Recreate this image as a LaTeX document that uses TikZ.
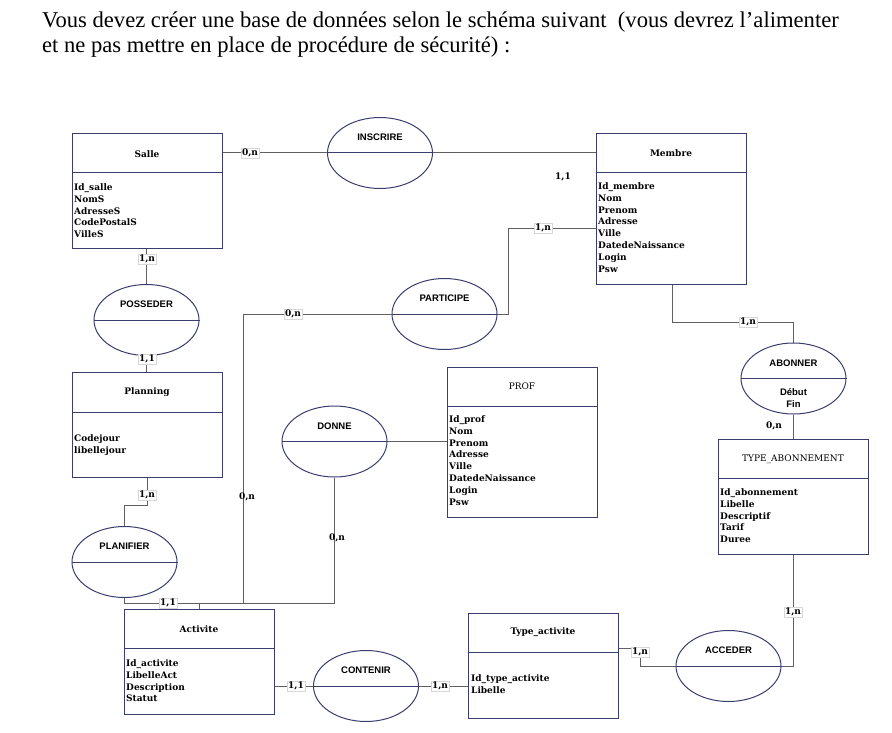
\documentclass[tikz,border=0pt]{standalone}
\usepackage{fontspec}
\setmainfont{Liberation Serif}
\newfontfamily\serb{DejaVu Serif}
\newfontfamily\sanb{Liberation Sans}
\usetikzlibrary{shapes.geometric}
\definecolor{boxc}{RGB}{58,62,110}
\definecolor{connc}{RGB}{95,95,100}
\definecolor{cardc}{RGB}{215,215,215}
\tikzset{
  entbox/.style={draw=boxc, line width=1pt, rectangle, inner sep=0pt},
  boxline/.style={draw=boxc, line width=1pt},
  relell/.style={draw=boxc, line width=1pt, ellipse, inner sep=0pt, minimum width=105pt, minimum height=71pt},
  conn/.style={draw=connc, line width=1pt},
  etitle/.style={font=\serb\fontsize{9}{11}\selectfont\bfseries, inner sep=0pt},
  etitler/.style={font=\serb\fontsize{9}{11}\selectfont, inner sep=0pt},
  attr/.style={font=\serb\fontsize{9}{11.8}\selectfont\bfseries, align=left, inner sep=0pt, anchor=north west},
  rname/.style={font=\sanb\fontsize{9.5}{12}\selectfont\bfseries, inner sep=0pt, align=center},
  card/.style={font=\serb\fontsize{9}{11}\selectfont\bfseries, fill=white, draw=cardc, line width=0.4pt, inner sep=1.2pt},
  cardplain/.style={font=\serb\fontsize{9}{11}\selectfont\bfseries, inner sep=0pt},
}
\begin{document}
\begin{tikzpicture}[x=1pt,y=-1pt]
\useasboundingbox (0,0) rectangle (892,733);
% title
\node[anchor=west, inner sep=0pt, font=\fontsize{22.6}{25}\selectfont, align=left] (title) at (42,35)
  {Vous devez créer une base de données selon le schéma suivant~ (vous devrez l’alimenter\\et ne pas mettre en place de procédure de sécurité) :};

% entities
\node[entbox, minimum width=150, minimum height=114] (salle) at (147,191) {};
\draw[boxline] (salle.west |- 0,173) -- (salle.east |- 0,173);
\node[etitle] (salleT) at (147,154) {Salle};
\node[attr] (salleA) at (74,183.5) {Id\_salle\\NomS\\AdresseS\\CodePostalS\\VilleS};

\node[entbox, minimum width=150, minimum height=150] (membre) at (671,209) {};
\draw[boxline] (membre.west |- 0,173) -- (membre.east |- 0,173);
\node[etitle] (membreT) at (671,153) {Membre};
\node[attr] (membreA) at (598,182.5) {Id\_membre\\Nom\\Prenom\\Adresse\\Ville\\DatedeNaissance\\Login\\Psw};

\node[entbox, minimum width=150, minimum height=105] (planning) at (147,424.5) {};
\draw[boxline] (planning.west |- 0,412) -- (planning.east |- 0,412);
\node[etitle] (planningT) at (147,392) {Planning};
\node[attr] (planningA) at (74,434.5) {Codejour\\libellejour};

\node[entbox, minimum width=150, minimum height=150] (prof) at (522,442) {};
\draw[boxline] (prof.west |- 0,406) -- (prof.east |- 0,406);
\node[etitler] (profT) at (522,386) {PROF};
\node[attr] (profA) at (449,415.5) {Id\_prof\\Nom\\Prenom\\Adresse\\Ville\\DatedeNaissance\\Login\\Psw};

\node[entbox, minimum width=150, minimum height=115] (typeabo) at (793,496.5) {};
\draw[boxline] (typeabo.west |- 0,478) -- (typeabo.east |- 0,478);
\node[etitler] (typeaboT) at (793,459) {TYPE\_ABONNEMENT};
\node[attr] (typeaboA) at (720,488.5) {Id\_abonnement\\Libelle\\Descriptif\\Tarif\\Duree};

\node[entbox, minimum width=150, minimum height=105] (activite) at (199,661.5) {};
\draw[boxline] (activite.west |- 0,648) -- (activite.east |- 0,648);
\node[etitle] (activiteT) at (199,629) {Activite};
\node[attr] (activiteA) at (126,659.5) {Id\_activite\\LibelleAct\\Description\\Statut};

\node[entbox, minimum width=150, minimum height=105] (typeact) at (543,665.5) {};
\draw[boxline] (typeact.west |- 0,652) -- (typeact.east |- 0,652);
\node[etitle] (typeactT) at (543,632) {Type\_activite};
\node[attr] (typeactA) at (471,674.5) {Id\_type\_activite\\Libelle};

% relationships
\node[relell] (inscrire) at (380,153) {};
\draw[boxline] (inscrire.west) -- (inscrire.east);
\node[rname] (inscrireT) at (380,137) {INSCRIRE};

\node[relell] (participe) at (444.5,314) {};
\draw[boxline] (participe.west) -- (participe.east);
\node[rname] (participeT) at (444.5,298) {PARTICIPE};

\node[relell] (posseder) at (146.5,320) {};
\draw[boxline] (posseder.west) -- (posseder.east);
\node[rname] (possederT) at (146.5,304) {POSSEDER};

\node[relell] (abonner) at (793.5,378.5) {};
\draw[boxline] (abonner.west) -- (abonner.east);
\node[rname] (abonnerT) at (793.5,363) {ABONNER};
\node[rname] (abonnerA) at (793.5,398) {Début\\Fin};

\node[relell] (donne) at (334.5,441.5) {};
\draw[boxline] (donne.west) -- (donne.east);
\node[rname] (donneT) at (334.5,426) {DONNE};

\node[relell] (planifier) at (124.5,562) {};
\draw[boxline] (planifier.west) -- (planifier.east);
\node[rname] (planifierT) at (124.5,546) {PLANIFIER};

\node[relell] (contenir) at (366,686) {};
\draw[boxline] (contenir.west) -- (contenir.east);
\node[rname] (contenirT) at (366,670) {CONTENIR};

\node[relell] (acceder) at (728.5,666) {};
\draw[boxline] (acceder.west) -- (acceder.east);
\node[rname] (accederT) at (728.5,650) {ACCEDER};

% connectors
\draw[conn] (salle.east |- inscrire.west) -- (inscrire.west);
\draw[conn] (inscrire.east) -- (membre.west |- inscrire.east);
\draw[conn] (membre.west |- 0,228) -- (508,228) -- (508,314) -- (participe.east);
\draw[conn] (participe.west) -- (243,314) -- (243,603);
\draw[conn] (donne.east) -- (prof.west |- donne.east);
\draw[conn] (donne.south) -- (334.5,603);
\draw[conn] (planifier.south) -- (124.5,603) -- (334.5,603);
\draw[conn] (activite.north) -- (activite.north |- 0,603);
\draw[conn] (posseder.north |- salle.south) -- (posseder.north);
\draw[conn] (posseder.south) -- (posseder.south |- planning.north);
\draw[conn] (planning.south) -- (147,505) -- (124.5,505) -- (planifier.north);
\draw[conn] (activite.east |- contenir.west) -- (contenir.west);
\draw[conn] (contenir.east) -- (typeact.west |- contenir.east);
\draw[conn] (typeact.east |- 0,648) -- (640,648) -- (640,666) -- (acceder.west);
\draw[conn] (acceder.east) -- (793,666) -- (typeabo.south);
\draw[conn] (membre.south -| 672,0) -- (672,322) -- (793.5,322) -- (abonner.north);
\draw[conn] (abonner.south) -- (abonner.south |- typeabo.north);

% cardinalities
\node[card] (c1) at (250,153) {0,n};
\node[cardplain] (c2) at (563,177) {1,1};
\node[card] (c3) at (543,228) {1,n};
\node[card] (c4) at (293,314) {0,n};
\node[cardplain] (c5) at (247,497) {0,n};
\node[cardplain] (c6) at (337,538) {0,n};
\node[card] (c7) at (147,259) {1,n};
\node[card] (c8) at (147,359) {1,1};
\node[card] (c9) at (147,495) {1,n};
\node[card] (c10) at (168,603) {1,1};
\node[card] (c11) at (296,686) {1,1};
\node[card] (c12) at (440,686) {1,n};
\node[card] (c13) at (640,652) {1,n};
\node[card] (c14) at (793,612) {1,n};
\node[card] (c15) at (748,322) {1,n};
\node[cardplain] (c16) at (774,426) {0,n};
\end{tikzpicture}
\end{document}
